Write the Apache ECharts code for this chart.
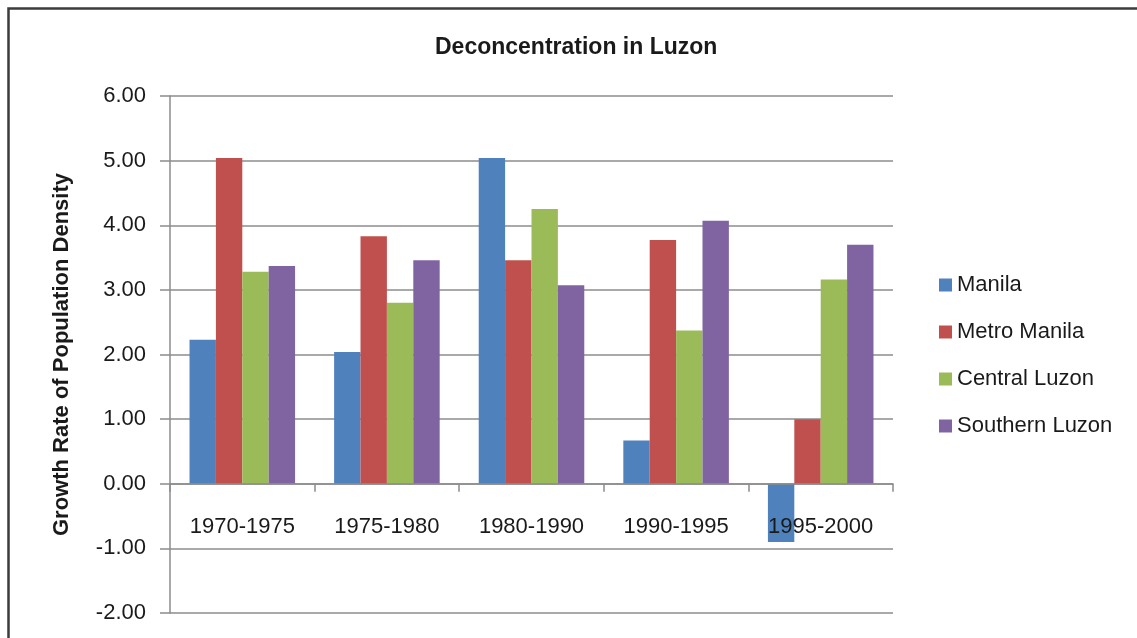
<!DOCTYPE html>
<html>
<head>
<meta charset="utf-8">
<script src="https://cdn.jsdelivr.net/npm/echarts@6/dist/echarts.min.js"></script>
<style>
html,body{margin:0;padding:0;background:#fff;}
#chart{width:1137px;height:638px;}
</style>
</head>
<body>
<div id="chart"></div>
<script>
var categories = ['1970-1975', '1975-1980', '1980-1990', '1990-1995', '1995-2000'];
var manila = [2.23, 2.04, 5.04, 0.67, -0.90];
var metroManila = [5.04, 3.83, 3.46, 3.77, 1.00];
var centralLuzon = [3.28, 2.80, 4.25, 2.37, 3.16];
var southernLuzon = [3.37, 3.46, 3.07, 4.07, 3.70];
var seriesNames = ['Manila', 'Metro Manila', 'Central Luzon', 'Southern Luzon'];
var colors = ['#4F81BD', '#C0504D', '#9BBB59', '#8064A2'];
var yMin = -2, yMax = 6, yStep = 1;

var FONT = '"Liberation Sans", Arial, sans-serif';
var TXT = '#1a1a1a';
var GRIDC = '#8c8c8c';

var chart = echarts.init(document.getElementById('chart'), null, {renderer: 'canvas'});
var dataSets = [manila, metroManila, centralLuzon, southernLuzon];
var series = dataSets.map(function (d, i) {
  return {
    name: seriesNames[i],
    type: 'bar',
    data: d,
    barGap: '0%',
    barCategoryGap: '27%',
    itemStyle: {color: colors[i]}
  };
});

chart.setOption({
  animation: false,
  color: colors,
  title: {
    text: 'Deconcentration in Luzon',
    left: 430,
    top: 31,
    textStyle: {fontFamily: FONT, fontSize: 23, fontWeight: 'bold', color: TXT}
  },
  legend: {
    orient: 'vertical',
    left: 934,
    top: 269,
    itemWidth: 13,
    itemHeight: 13,
    itemGap: 25,
    icon: 'rect',
    data: seriesNames,
    textStyle: {fontFamily: FONT, fontSize: 22, color: TXT, padding: [0, 0, 0, 0]}
  },
  graphic: [{
    type: 'rect',
    shape: {x: 8.5, y: 8.5, width: 1140, height: 640},
    style: {fill: 'none', stroke: '#3c3c3c', lineWidth: 2.5},
    silent: true
  }],
  grid: {left: 170, right: 244, top: 96, bottom: 25, containLabel: false, outerBoundsMode: 'none'},
  xAxis: {
    type: 'category',
    data: categories,
    z: 5,
    axisLine: {onZero: true, lineStyle: {color: GRIDC, width: 1.5}},
    axisTick: {show: true, length: 8, lineStyle: {color: GRIDC, width: 1.5}},
    axisLabel: {fontFamily: FONT, fontSize: 22, color: TXT, margin: -97}
  },
  yAxis: {
    type: 'value',
    min: yMin,
    max: yMax,
    interval: yStep,
    name: 'Growth Rate of Population Density',
    nameLocation: 'middle',
    nameGap: 97,
    nameTextStyle: {fontFamily: FONT, fontSize: 22, fontWeight: 'bold', color: TXT},
    axisLine: {show: true, lineStyle: {color: GRIDC, width: 1.5}},
    axisTick: {show: true, length: 10, lineStyle: {color: GRIDC, width: 1.5}},
    axisLabel: {
      fontFamily: FONT, fontSize: 22, color: TXT, margin: 24,
      formatter: function (v) { return v.toFixed(2); }
    },
    splitLine: {show: true, lineStyle: {color: GRIDC, width: 1.5}}
  },
  series: series
});
</script>
</body>
</html>
